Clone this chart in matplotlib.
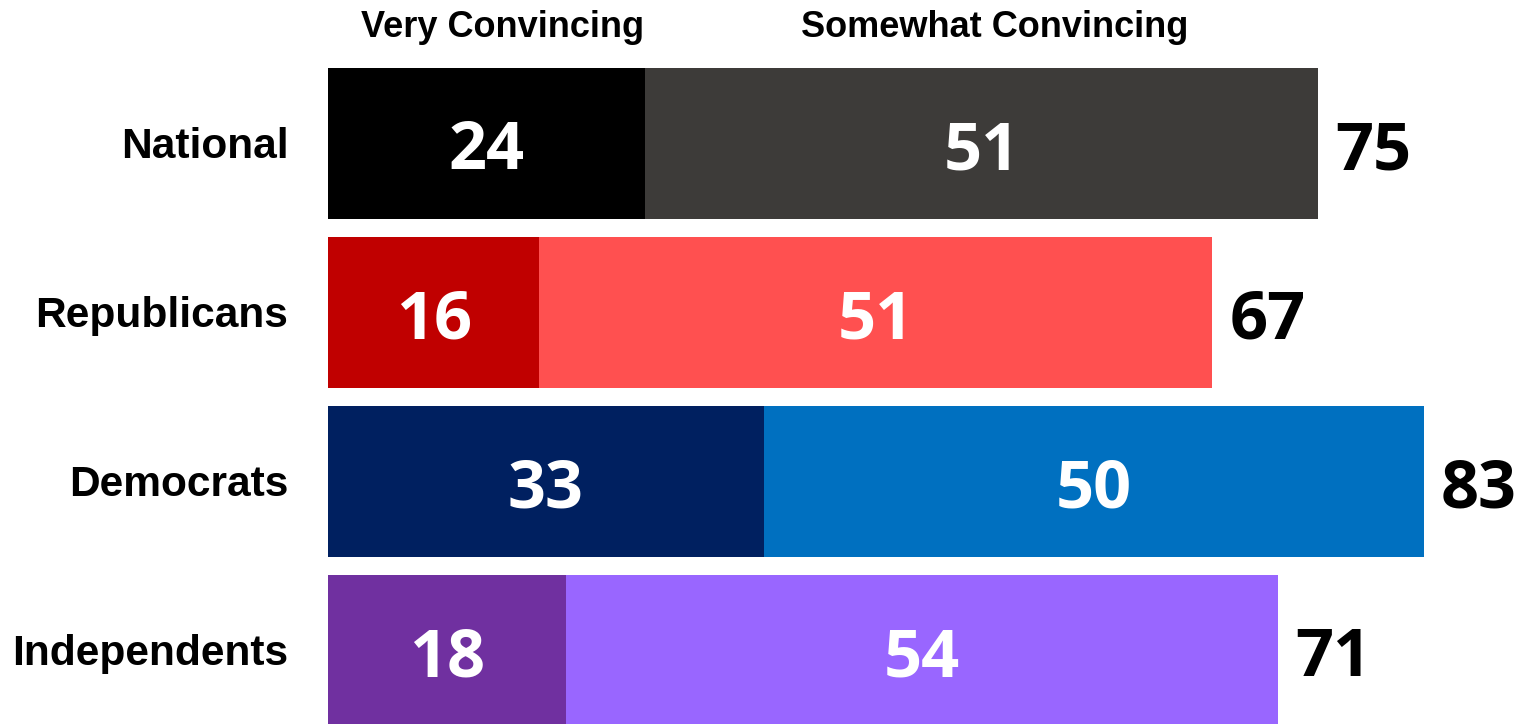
import matplotlib.pyplot as plt
from matplotlib import font_manager as fm
import numpy as np

groups = ['National', 'Republicans', 'Democrats', 'Independents']
very = [24, 16, 33, 18]
somewhat = [51, 51, 50, 54]
totals = [75, 67, 83, 71]

very_colors = ['#000000', '#C00000', '#002060', '#7030A0']
somewhat_colors = ['#3D3B39', '#FF5050', '#0070C0', '#9966FF']

# regular-width Liberation Sans Bold (avoid the Narrow variant)
bold_path = None
for f in fm.findSystemFonts():
    if f.endswith('LiberationSans-Bold.ttf'):
        bold_path = f
        break
if bold_path:
    label_prop = dict(fontproperties=fm.FontProperties(fname=bold_path))
else:
    label_prop = dict(family='DejaVu Sans', fontweight='bold')

num_prop = dict(family='Open Sans', fontweight='bold')

fig = plt.figure(figsize=(15.18, 7.24), dpi=100)
ax = fig.add_axes([328 / 1518, 0, 1 - 328 / 1518, 1])

y = np.arange(len(groups))
bar_h = 151 / 169

ax.barh(y, very, height=bar_h, color=very_colors)
ax.barh(y, somewhat, left=very, height=bar_h, color=somewhat_colors)

dy = 0.152  # number baseline sits a little below the bar centre
for i in range(len(groups)):
    ax.text(very[i] / 2, y[i] + dy, str(very[i]), ha='center', va='baseline',
            color='white', fontsize=48, **num_prop)
    ax.text(very[i] + somewhat[i] / 2, y[i] + dy, str(somewhat[i]),
            ha='center', va='baseline', color='white', fontsize=48,
            **num_prop)
    ax.text(very[i] + somewhat[i] + 1.3, y[i] + dy, str(totals[i]),
            ha='left', va='baseline', color='black', fontsize=48, **num_prop)
    t = ax.text(-3.0, y[i] + 0.086, groups[i], ha='right', va='baseline',
                color='black', **label_prop)
    t.set_fontsize(30.6)

# column headers above the first bar
for x, s in [(13.2, 'Very Convincing'), (50.5, 'Somewhat Convincing')]:
    t = ax.text(x, -0.63, s, ha='center', va='baseline', color='black',
                **label_prop)
    t.set_fontsize(26)

ax.set_xlim(0, (1518 - 328) / 13.2)
ax.set_ylim((724 - 143.5) / 169, -143.5 / 169)
ax.axis('off')

plt.savefig('out.png', dpi=100)
